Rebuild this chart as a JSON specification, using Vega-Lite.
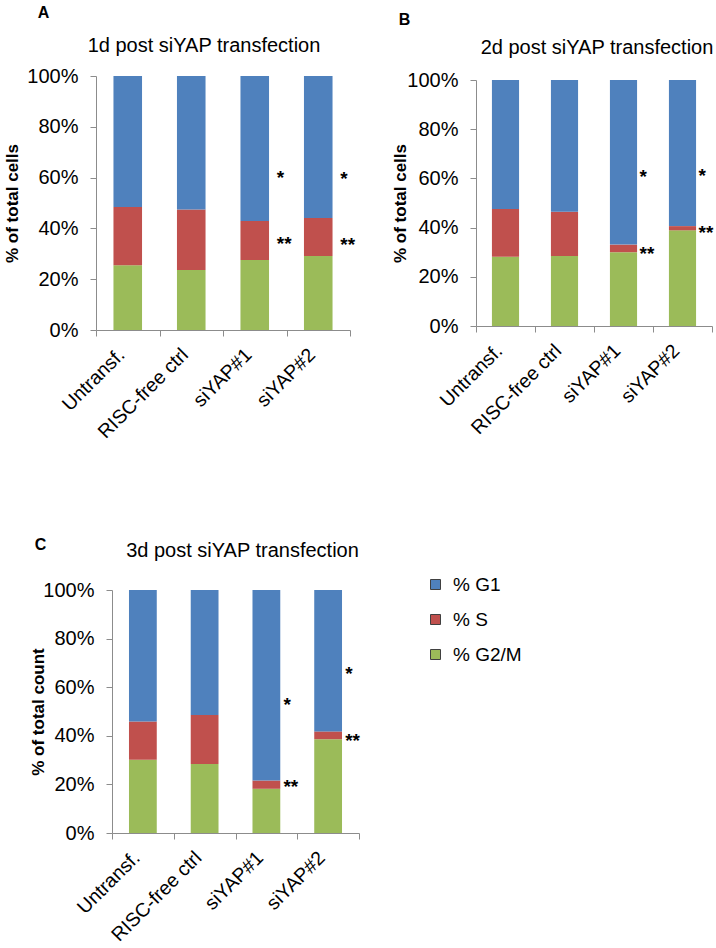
{
  "$schema": "https://vega.github.io/schema/vega-lite/v6.json",
  "padding": {"left": 3, "top": 5, "right": 0, "bottom": 0},
  "background": "white",
  "datasets": {
    "cells": [
      {"panel": "A", "condition": "Untransf.", "phase": "% G2/M", "low": 0, "high": 25.5},
      {"panel": "A", "condition": "Untransf.", "phase": "% S", "low": 25.5, "high": 48.4},
      {"panel": "A", "condition": "Untransf.", "phase": "% G1", "low": 48.4, "high": 100},
      {"panel": "A", "condition": "RISC-free ctrl", "phase": "% G2/M", "low": 0, "high": 23.6},
      {"panel": "A", "condition": "RISC-free ctrl", "phase": "% S", "low": 23.6, "high": 47.4},
      {"panel": "A", "condition": "RISC-free ctrl", "phase": "% G1", "low": 47.4, "high": 100},
      {"panel": "A", "condition": "siYAP#1", "phase": "% G2/M", "low": 0, "high": 27.6},
      {"panel": "A", "condition": "siYAP#1", "phase": "% S", "low": 27.6, "high": 42.9},
      {"panel": "A", "condition": "siYAP#1", "phase": "% G1", "low": 42.9, "high": 100},
      {"panel": "A", "condition": "siYAP#2", "phase": "% G2/M", "low": 0, "high": 29.1},
      {"panel": "A", "condition": "siYAP#2", "phase": "% S", "low": 29.1, "high": 44.1},
      {"panel": "A", "condition": "siYAP#2", "phase": "% G1", "low": 44.1, "high": 100},
      {"panel": "B", "condition": "Untransf.", "phase": "% G2/M", "low": 0, "high": 28.1},
      {"panel": "B", "condition": "Untransf.", "phase": "% S", "low": 28.1, "high": 47.6},
      {"panel": "B", "condition": "Untransf.", "phase": "% G1", "low": 47.6, "high": 100},
      {"panel": "B", "condition": "RISC-free ctrl", "phase": "% G2/M", "low": 0, "high": 28.5},
      {"panel": "B", "condition": "RISC-free ctrl", "phase": "% S", "low": 28.5, "high": 46.4},
      {"panel": "B", "condition": "RISC-free ctrl", "phase": "% G1", "low": 46.4, "high": 100},
      {"panel": "B", "condition": "siYAP#1", "phase": "% G2/M", "low": 0, "high": 30.0},
      {"panel": "B", "condition": "siYAP#1", "phase": "% S", "low": 30.0, "high": 33.1},
      {"panel": "B", "condition": "siYAP#1", "phase": "% G1", "low": 33.1, "high": 100},
      {"panel": "B", "condition": "siYAP#2", "phase": "% G2/M", "low": 0, "high": 38.9},
      {"panel": "B", "condition": "siYAP#2", "phase": "% S", "low": 38.9, "high": 40.6},
      {"panel": "B", "condition": "siYAP#2", "phase": "% G1", "low": 40.6, "high": 100},
      {"panel": "C", "condition": "Untransf.", "phase": "% G2/M", "low": 0, "high": 30.1},
      {"panel": "C", "condition": "Untransf.", "phase": "% S", "low": 30.1, "high": 45.9},
      {"panel": "C", "condition": "Untransf.", "phase": "% G1", "low": 45.9, "high": 100},
      {"panel": "C", "condition": "RISC-free ctrl", "phase": "% G2/M", "low": 0, "high": 28.4},
      {"panel": "C", "condition": "RISC-free ctrl", "phase": "% S", "low": 28.4, "high": 48.6},
      {"panel": "C", "condition": "RISC-free ctrl", "phase": "% G1", "low": 48.6, "high": 100},
      {"panel": "C", "condition": "siYAP#1", "phase": "% G2/M", "low": 0, "high": 18.2},
      {"panel": "C", "condition": "siYAP#1", "phase": "% S", "low": 18.2, "high": 21.6},
      {"panel": "C", "condition": "siYAP#1", "phase": "% G1", "low": 21.6, "high": 100},
      {"panel": "C", "condition": "siYAP#2", "phase": "% G2/M", "low": 0, "high": 38.6},
      {"panel": "C", "condition": "siYAP#2", "phase": "% S", "low": 38.6, "high": 41.8},
      {"panel": "C", "condition": "siYAP#2", "phase": "% G1", "low": 41.8, "high": 100}
    ],
    "stars": [
      {"panel": "A", "condition": "siYAP#1", "label": "*", "level": 61.3},
      {"panel": "A", "condition": "siYAP#1", "label": "**", "level": 35.4},
      {"panel": "A", "condition": "siYAP#2", "label": "*", "level": 61.0},
      {"panel": "A", "condition": "siYAP#2", "label": "**", "level": 35.2},
      {"panel": "B", "condition": "siYAP#1", "label": "*", "level": 62.0},
      {"panel": "B", "condition": "siYAP#1", "label": "**", "level": 30.9},
      {"panel": "B", "condition": "siYAP#2", "label": "*", "level": 62.8},
      {"panel": "B", "condition": "siYAP#2", "label": "**", "level": 39.6},
      {"panel": "C", "condition": "siYAP#1", "label": "*", "level": 54.5},
      {"panel": "C", "condition": "siYAP#1", "label": "**", "level": 20.5},
      {"panel": "C", "condition": "siYAP#2", "label": "*", "level": 67.0},
      {"panel": "C", "condition": "siYAP#2", "label": "**", "level": 39.7}
    ]
  },
  "config": {
    "font": "Liberation Sans",
    "view": {"stroke": null},
    "title": {"fontSize": 20, "fontWeight": "normal", "color": "#000000", "font": "Liberation Sans"},
    "axis": {"grid": false, "domainColor": "#8c8c8c", "tickColor": "#8c8c8c", "labelColor": "#000000", "labelFont": "Liberation Sans", "labelFontSize": 20, "titleFont": "Liberation Sans", "titleFontSize": 17, "titleFontWeight": "bold", "titleColor": "#000000", "tickSize": 6},
    "axisX": {"labelAngle": -45, "tickBand": "extent", "labelPadding": 9, "labelOffset": -13, "labelOverlap": false, "labelFontSize": 19.5},
    "axisY": {"values": [0, 20, 40, 60, 80, 100], "labelExpr": "datum.value + '%'", "labelPadding": 12},
    "legend": {"padding": 0}
  },
  "columns": 1,
  "spacing": 95,
  "concat": [
    {
      "columns": 2,
      "spacing": 35,
      "concat": [
        {
          "title": {"text": "A", "anchor": "start", "frame": "bounds", "fontSize": 16, "fontWeight": "bold", "dx": 34, "offset": 15},
          "vconcat": [
            {
              "width": 254, "height": 254,
              "title": {"text": "1d post siYAP transfection", "frame": "group", "anchor": "middle", "dx": -19, "offset": 10},
              "layer": [
                {
                  "data": {"name": "cells"},
                  "transform": [{"filter": "datum.panel === 'A'"}],
                  "mark": {"type": "bar", "width": {"band": 0.45}},
                  "encoding": {
                    "x": {"field": "condition", "type": "nominal", "sort": ["Untransf.", "RISC-free ctrl", "siYAP#1", "siYAP#2"], "scale": {"paddingInner": 0, "paddingOuter": 0}, "title": null},
                    "y": {"field": "high", "type": "quantitative", "scale": {"domain": [0, 100], "nice": false}, "title": "% of total cells", "axis": {"titlePadding": 5}},
                    "y2": {"field": "low"},
                    "color": {"field": "phase", "type": "nominal", "scale": {"domain": ["% G1", "% S", "% G2/M"], "range": ["#4F81BD", "#C0504D", "#9BBB59"]},
                      "legend": {"title": null, "orient": "none", "legendX": 330, "legendY": 499, "symbolType": "square", "symbolSize": 100, "labelFontSize": 19, "labelColor": "#000000", "labelFont": "Liberation Sans", "rowPadding": 15, "labelOffset": 8,
                        "encode": {"symbols": {"update": {"stroke": {"value": "#404040"}, "strokeWidth": {"value": 1}}}}}}
                  }
                },
                {
                  "data": {"name": "stars"},
                  "transform": [{"filter": "datum.panel === 'A'"}],
                  "mark": {"type": "text", "align": "left", "baseline": "middle", "dx": 22, "dy": 4, "fontSize": 19, "fontWeight": "bold", "color": "#000000"},
                  "encoding": {
                    "x": {"field": "condition", "type": "nominal", "sort": ["Untransf.", "RISC-free ctrl", "siYAP#1", "siYAP#2"], "title": null},
                    "y": {"field": "level", "type": "quantitative", "title": "% of total cells"},
                    "text": {"field": "label"}
                  }
                }
              ]
            }
          ]
        },
        {
          "title": {"text": "B", "anchor": "start", "frame": "bounds", "fontSize": 16, "fontWeight": "bold", "dx": 7, "offset": 10},
          "vconcat": [
            {
              "width": 236, "height": 250,
              "title": {"text": "2d post siYAP transfection", "frame": "group", "anchor": "middle", "dx": 3, "offset": 12},
              "layer": [
                {
                  "data": {"name": "cells"},
                  "transform": [{"filter": "datum.panel === 'B'"}],
                  "mark": {"type": "bar", "width": {"band": 0.46}},
                  "encoding": {
                    "x": {"field": "condition", "type": "nominal", "sort": ["Untransf.", "RISC-free ctrl", "siYAP#1", "siYAP#2"], "scale": {"paddingInner": 0, "paddingOuter": 0}, "title": null},
                    "y": {"field": "high", "type": "quantitative", "scale": {"domain": [0, 100], "nice": false, "range": [250, 4]}, "title": "% of total cells", "axis": {"titlePadding": -3}},
                    "y2": {"field": "low"},
                    "color": {"field": "phase", "type": "nominal", "scale": {"domain": ["% G1", "% S", "% G2/M"], "range": ["#4F81BD", "#C0504D", "#9BBB59"]},
                      "legend": {"title": null, "orient": "none", "legendX": 330, "legendY": 499, "symbolType": "square", "symbolSize": 100, "labelFontSize": 19, "labelColor": "#000000", "labelFont": "Liberation Sans", "rowPadding": 15, "labelOffset": 8,
                        "encode": {"symbols": {"update": {"stroke": {"value": "#404040"}, "strokeWidth": {"value": 1}}}}}}
                  }
                },
                {
                  "data": {"name": "stars"},
                  "transform": [{"filter": "datum.panel === 'B'"}],
                  "mark": {"type": "text", "align": "left", "baseline": "middle", "dx": 16, "dy": 4, "fontSize": 19, "fontWeight": "bold", "color": "#000000"},
                  "encoding": {
                    "x": {"field": "condition", "type": "nominal", "sort": ["Untransf.", "RISC-free ctrl", "siYAP#1", "siYAP#2"], "title": null},
                    "y": {"field": "level", "type": "quantitative", "title": "% of total cells"},
                    "text": {"field": "label"}
                  }
                }
              ]
            }
          ]
        }
      ]
    },
    {
      "title": {"text": "C", "anchor": "start", "frame": "bounds", "fontSize": 16, "fontWeight": "bold", "dx": 5, "offset": -12},
      "vconcat": [
        {
          "width": 263, "height": 243,
          "title": {"text": "3d post siYAP transfection", "frame": "group", "anchor": "middle", "dx": 15, "offset": 19},
          "layer": [
            {
              "data": {"name": "cells"},
              "transform": [{"filter": "datum.panel === 'C'"}],
              "mark": {"type": "bar", "width": {"band": 0.45}},
              "encoding": {
                "x": {"field": "condition", "type": "nominal", "sort": ["Untransf.", "RISC-free ctrl", "siYAP#1", "siYAP#2"], "scale": {"paddingInner": 0, "paddingOuter": 0, "range": [16, 263]}, "title": null},
                "y": {"field": "high", "type": "quantitative", "scale": {"domain": [0, 100], "nice": false}, "title": "% of total count", "axis": {"titlePadding": -5, "offset": -16}},
                "y2": {"field": "low"},
                "color": {"field": "phase", "type": "nominal", "scale": {"domain": ["% G1", "% S", "% G2/M"], "range": ["#4F81BD", "#C0504D", "#9BBB59"]},
                  "legend": {"title": null, "orient": "none", "legendX": 330, "legendY": 499, "symbolType": "square", "symbolSize": 100, "labelFontSize": 19, "labelColor": "#000000", "labelFont": "Liberation Sans", "rowPadding": 15, "labelOffset": 8,
                    "encode": {"symbols": {"update": {"stroke": {"value": "#404040"}, "strokeWidth": {"value": 1}}}}}}
              }
            },
            {
              "data": {"name": "stars"},
              "transform": [{"filter": "datum.panel === 'C'"}],
              "mark": {"type": "text", "align": "left", "baseline": "middle", "dx": 17, "dy": 4, "fontSize": 19, "fontWeight": "bold", "color": "#000000"},
              "encoding": {
                "x": {"field": "condition", "type": "nominal", "sort": ["Untransf.", "RISC-free ctrl", "siYAP#1", "siYAP#2"], "title": null},
                "y": {"field": "level", "type": "quantitative", "title": "% of total count"},
                "text": {"field": "label"}
              }
            }
          ]
        }
      ]
    }
  ]
}
